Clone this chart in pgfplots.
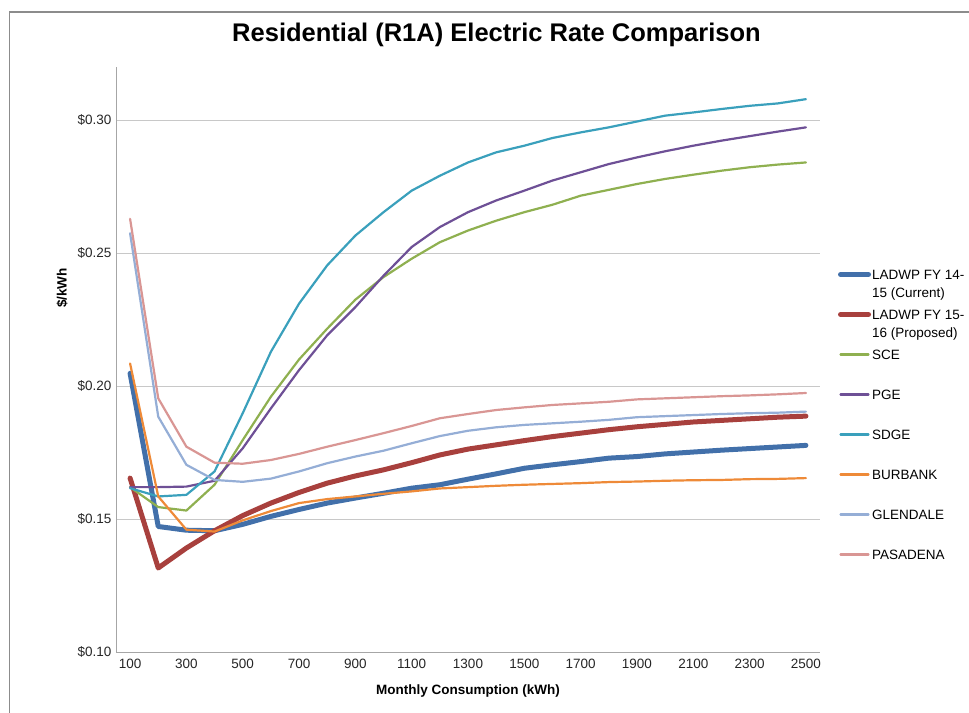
\documentclass[border=0pt]{standalone}
\usepackage{pgfplots}
\pgfplotsset{compat=1.18}
\usepackage{pgfplotstable}
\usepackage{fontspec}
\setmainfont{Liberation Sans}

\definecolor{ladwpA}{HTML}{4270AA}
\definecolor{ladwpB}{HTML}{A8403D}
\definecolor{sce}{HTML}{8FB050}
\definecolor{pge}{HTML}{6E5096}
\definecolor{sdge}{HTML}{3AA0BC}
\definecolor{burbank}{HTML}{EE8A38}
\definecolor{glendale}{HTML}{95AED6}
\definecolor{pasadena}{HTML}{D99694}
\definecolor{gridgray}{HTML}{C8C8C8}
\definecolor{axisgray}{HTML}{A6A6A6}
\definecolor{framegray}{HTML}{8C8C8C}

% Average rate ($/kWh) by monthly consumption (kWh)
\pgfplotstableread{
kwh   ladwpA ladwpB sce    pge    sdge   bur    glen   pas
100   0.2048 0.1654 0.1620 0.1620 0.1616 0.2085 0.2575 0.2629
200   0.1472 0.1316 0.1545 0.1620 0.1585 0.1585 0.1885 0.1954
300   0.1458 0.1391 0.1532 0.1622 0.1591 0.1460 0.1704 0.1772
400   0.1456 0.1456 0.1629 0.1644 0.1679 0.1453 0.1647 0.1712
500   0.1480 0.1513 0.1797 0.1766 0.1898 0.1495 0.1640 0.1708
600   0.1510 0.1560 0.1960 0.1916 0.2129 0.1530 0.1652 0.1722
700   0.1536 0.1600 0.2100 0.2060 0.2310 0.1560 0.1679 0.1745
800   0.1560 0.1635 0.2216 0.2191 0.2454 0.1575 0.1710 0.1772
900   0.1579 0.1662 0.2325 0.2297 0.2566 0.1585 0.1735 0.1797
1000  0.1597 0.1685 0.2410 0.2415 0.2654 0.1595 0.1757 0.1823
1100  0.1616 0.1712 0.2479 0.2523 0.2735 0.1604 0.1785 0.1850
1200  0.1629 0.1741 0.2541 0.2598 0.2791 0.1615 0.1812 0.1879
1300  0.1650 0.1763 0.2585 0.2654 0.2841 0.1620 0.1832 0.1895
1400  0.1670 0.1779 0.2622 0.2698 0.2879 0.1625 0.1845 0.1910
1500  0.1691 0.1795 0.2654 0.2735 0.2904 0.1629 0.1854 0.1920
1600  0.1704 0.1810 0.2682 0.2773 0.2933 0.1632 0.1860 0.1929
1700  0.1716 0.1823 0.2716 0.2804 0.2954 0.1635 0.1866 0.1935
1800  0.1729 0.1836 0.2738 0.2835 0.2973 0.1639 0.1873 0.1941
1900  0.1735 0.1847 0.2760 0.2860 0.2995 0.1641 0.1883 0.1950
2000  0.1745 0.1856 0.2779 0.2883 0.3017 0.1644 0.1887 0.1954
2100  0.1752 0.1865 0.2795 0.2904 0.3029 0.1646 0.1891 0.1958
2200  0.1759 0.1871 0.2810 0.2923 0.3042 0.1647 0.1895 0.1962
2300  0.1765 0.1877 0.2823 0.2940 0.3054 0.1650 0.1898 0.1965
2400  0.1771 0.1883 0.2833 0.2957 0.3063 0.1651 0.1900 0.1969
2500  0.1777 0.1887 0.2841 0.2973 0.3079 0.1654 0.1904 0.1974
}\rates

\newcommand{\twoline}[2]{\begin{tabular}[t]{@{}l@{}}#1\\[2bp]#2\end{tabular}}

\begin{document}
\begin{tikzpicture}
\path[use as bounding box] (0,0) rectangle (969bp,713bp);
% chart-area border
\draw[framegray, line width=1.2bp] (9.5bp,0) -- (9.5bp,701bp) -- (969bp,701bp);
\begin{axis}[
  at={(116bp,61bp)}, anchor=south west,
  scale only axis, width=704bp, height=585bp,
  xmin=50, xmax=2550, ymin=0.10, ymax=0.32,
  axis x line=bottom, axis y line=left,
  axis line style={-, draw=axisgray, line width=1bp},
  major tick length=0pt,
  xtick={100,300,...,2500},
  ytick={0.10,0.15,0.20,0.25,0.30},
  ymajorgrids, grid style={gridgray, line width=1bp},
  /pgf/number format/assume math mode=true,
  /pgf/number format/1000 sep={},
  yticklabel={\$\pgfmathprintnumber[fixed,fixed zerofill,precision=2]{\tick}},
  ticklabel style={font=\fontsize{13.5bp}{16bp}\selectfont, text=black!85},
  xticklabel style={yshift=-4bp},
  yticklabel style={xshift=-1bp},
  title={Residential (R1A) Electric Rate Comparison},
  title style={font=\bfseries\fontsize{25.5bp}{30bp}\selectfont, anchor=base,
    at={(axis description cs:0.5405,1.0342)}},
  xlabel={Monthly Consumption (kWh)},
  xlabel style={font=\bfseries\fontsize{13.5bp}{16bp}\selectfont, anchor=center,
    at={(axis description cs:0.5,-0.0667)}},
  ylabel={\$/kWh},
  ylabel style={font=\bfseries\fontsize{13.5bp}{16bp}\selectfont, anchor=center,
    at={(axis description cs:-0.0767,0.6222)}},
  legend cell align=left,
  legend image code/.code={\draw[#1] (0bp,0bp) -- (28bp,0bp);},
  legend style={draw=none, fill=none, inner sep=0pt, outer sep=0pt,
    at={(axis description cs:1.0256,0.6564)}, anchor=north west,
    font=\fontsize{13.5bp}{16bp}\selectfont,
    nodes={inner sep=0pt, text height=11bp, text depth=2bp, anchor=west},
    row sep=27bp,
    /tikz/every odd column/.append style={column sep=1bp}},
  every axis plot/.append style={line cap=round, line join=round},
]
\addplot[ladwpA, line width=5bp] table[x=kwh, y=ladwpA] {\rates};
\addlegendentry{\twoline{LADWP FY 14-}{15 (Current)}}
\addplot[ladwpB, line width=5bp] table[x=kwh, y=ladwpB] {\rates};
\addlegendentry{\twoline{LADWP FY 15-}{16 (Proposed)}}
\addplot[sce, line width=2.2bp] table[x=kwh, y=sce] {\rates};
\addlegendentry{SCE}
\addplot[pge, line width=2.2bp] table[x=kwh, y=pge] {\rates};
\addlegendentry{PGE}
\addplot[sdge, line width=2.2bp] table[x=kwh, y=sdge] {\rates};
\addlegendentry{SDGE}
\addplot[burbank, line width=2.2bp] table[x=kwh, y=bur] {\rates};
\addlegendentry{BURBANK}
\addplot[glendale, line width=2.2bp] table[x=kwh, y=glen] {\rates};
\addlegendentry{GLENDALE}
\addplot[pasadena, line width=2.2bp] table[x=kwh, y=pas] {\rates};
\addlegendentry{PASADENA}
\end{axis}
\end{tikzpicture}
\end{document}
